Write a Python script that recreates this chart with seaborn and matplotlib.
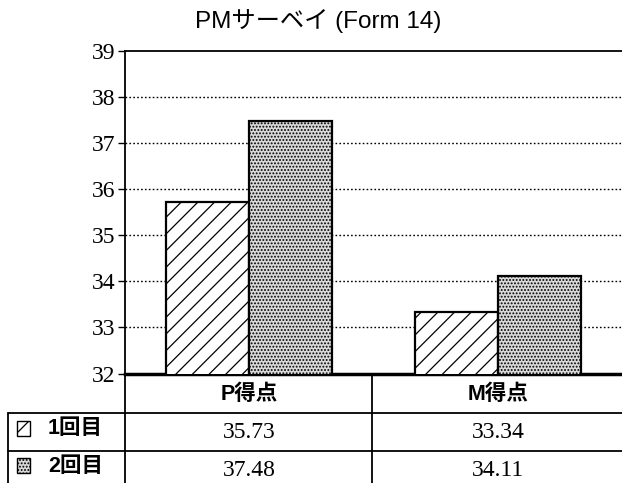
import matplotlib
matplotlib.use("Agg")
import matplotlib.pyplot as plt
import matplotlib.transforms as mtransforms
from matplotlib.lines import Line2D
from matplotlib.patches import Rectangle
import seaborn as sns
import pandas as pd

# Data
categories = ["P得点", "M得点"]
rounds = ["1回目", "2回目"]
round1_scores = [35.73, 33.34]
round2_scores = [37.48, 34.11]
y_ticks = [32, 33, 34, 35, 36, 37, 38, 39]
title = "PMサーベイ (Form 14)"

df = pd.DataFrame({
    "category": categories * 2,
    "round": [rounds[0]] * 2 + [rounds[1]] * 2,
    "score": round1_scores + round2_scores,
})

sns.set_theme(style="white")
plt.rcParams["hatch.linewidth"] = 0.9
SANS = ["Liberation Sans", "Noto Sans CJK JP", "DejaVu Sans"]
SERIF = ["Liberation Serif", "DejaVu Serif"]

W, H = 622, 483
fig = plt.figure(figsize=(W / 100, H / 100), dpi=100)
ax = fig.add_axes([124.5 / W, 1 - 373.5 / H, 498 / W, (373.5 - 51) / H])

styles = {rounds[0]: dict(face="white", hatch="//"),
          rounds[1]: dict(face="#d9d9d9", hatch=".....")}

sns.barplot(data=df, x="category", y="score", hue="round", order=categories,
            hue_order=rounds, palette=["white", "#d9d9d9"], width=0.67, gap=0,
            legend=False, ax=ax, edgecolor="black", linewidth=1.6, errorbar=None)

for cont, r in zip(ax.containers, rounds):
    for bar in cont:
        bar.set_facecolor(styles[r]["face"])
        bar.set_hatch(styles[r]["hatch"])
        bar.set_edgecolor("black")
        bar.set_zorder(3)

ax.set_ylim(y_ticks[0], y_ticks[-1])
ax.set_xlim(-0.5, len(categories) - 0.5)
ax.set_yticks(y_ticks)
ax.set_yticklabels([str(t) for t in y_ticks], fontfamily=SERIF, fontsize=17, color="black")
ax.tick_params(axis="y", which="major", direction="out", length=5, width=1, color="black",
               left=True, pad=1.5)
ax.tick_params(axis="x", bottom=False, labelbottom=False)
ax.set_xlabel("")
ax.set_ylabel("")

for t in y_ticks[1:-1]:
    ax.axhline(t, color="black", linestyle=(0, (1.2, 1.6)), linewidth=1.0, zorder=1)

for side in ["left", "top", "bottom"]:
    ax.spines[side].set_visible(True)
    ax.spines[side].set_color("black")
ax.spines["left"].set_linewidth(1.3)
ax.spines["top"].set_linewidth(1.3)
ax.spines["bottom"].set_linewidth(2.5)
ax.spines["right"].set_visible(False)
ax.set_facecolor("white")

fig.text(318 / W, 1 - 21 / H, title, ha="center", va="center",
         fontsize=17.5, fontfamily=SANS, color="black")

# Data table under the plot
def fx(px):
    return px / W

def fy(py):
    return 1 - py / H

lw = 1.3
table_lines = [
    ((124.5, 124.5), (373.5, 483)),
    ((372, 372), (373.5, 483)),
    ((8, 8), (413, 483)),
    ((8, 622), (413, 413)),
    ((8, 622), (451, 451)),
]
for xs, ys in table_lines:
    fig.add_artist(Line2D([fx(x) for x in xs], [fy(y) for y in ys], color="black",
                          linewidth=lw, transform=fig.transFigure))

blend = mtransforms.blended_transform_factory(ax.transData, fig.transFigure)
for i, cat in enumerate(categories):
    ax.text(i, fy(394), cat, transform=blend, ha="center", va="center",
            fontsize=15.5, fontfamily=SANS, fontweight="bold", color="black", clip_on=False)
    ax.text(i, fy(433), f"{round1_scores[i]:.2f}", transform=blend, ha="center",
            va="center", fontsize=17, fontfamily=SERIF, color="black", clip_on=False)
    ax.text(i, fy(470), f"{round2_scores[i]:.2f}", transform=blend, ha="center",
            va="center", fontsize=17, fontfamily=SERIF, color="black", clip_on=False)

row_y = [428, 465]
for r, yc in zip(rounds, row_y):
    fig.add_artist(Rectangle((fx(17), fy(yc + 7.5)), 13 / W, 15 / H,
                             facecolor=styles[r]["face"], hatch=styles[r]["hatch"],
                             edgecolor="black", linewidth=1.0, transform=fig.transFigure))
    fig.text(fx(48), fy(yc + 1), r, ha="left", va="center", fontsize=15.5,
             fontfamily=SANS, fontweight="bold", color="black")

fig.savefig("out.png", dpi=100, facecolor="white")
